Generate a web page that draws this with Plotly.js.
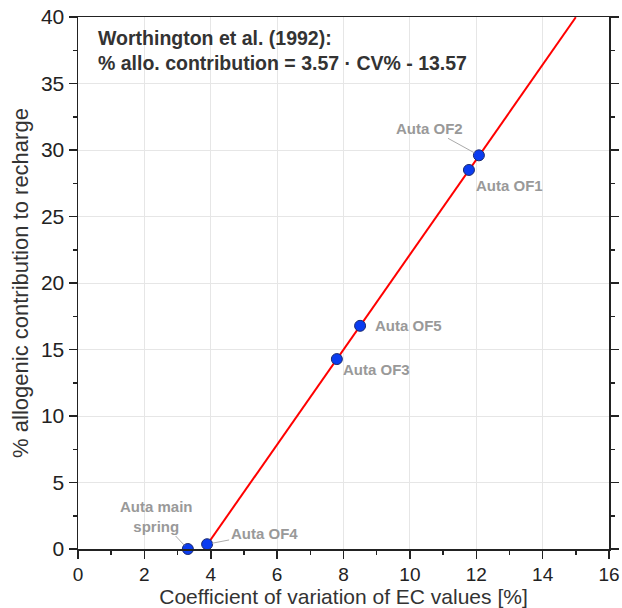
<!DOCTYPE html>
<html>
<head>
<meta charset="utf-8">
<script src="https://cdn.plot.ly/plotly-3.0.1.min.js"></script>
<style>html,body{margin:0;padding:0;background:#fff;} #chart{width:622px;height:608px;}</style>
</head>
<body>
<div id="chart"></div>
<script>
// Data
const siteNames = ["Auta main spring", "Auta OF4", "Auta OF3", "Auta OF5", "Auta OF1", "Auta OF2"];
const cvValues = [3.31, 3.89, 7.8, 8.5, 11.78, 12.08];
const alloValues = [0, 0.36, 14.28, 16.78, 28.5, 29.6];
const lineCV = [3.8, 15];
const lineAllo = [0, 39.98];
const xTicks = [0, 2, 4, 6, 8, 10, 12, 14, 16];
const yTicks = [0, 5, 10, 15, 20, 25, 30, 35, 40];
const labelOffsets = [[-31, -33, true], [57, -11, true], [0, 0, false], [0, 0, false], [41, 16, true], [-49, -27, true]];

const lineTrace = {
  x: lineCV, y: lineAllo, mode: 'lines', type: 'scatter',
  line: {color: '#ff0000', width: 2}, hoverinfo: 'skip', cliponaxis: false
};
const pointTrace = {
  x: cvValues, y: alloValues, mode: 'markers', type: 'scatter',
  marker: {color: '#0a3cf0', size: 11, line: {color: '#1a2a70', width: 1}},
  cliponaxis: false
};

const FF = 'Liberation Sans, Arial, sans-serif';
const annFont = {family: FF, size: 15, color: '#999999'};
const annotations = [];
siteNames.forEach((name, i) => {
  const off = labelOffsets[i];
  const txt = name === "Auta main spring" ? "<b>Auta main<br>spring</b>" : "<b>" + name + "</b>";
  if (off[2]) {
    annotations.push({
      x: cvValues[i], y: alloValues[i], xref: 'x', yref: 'y', text: txt,
      showarrow: true, arrowhead: 0, arrowwidth: 1, arrowcolor: '#aaaaaa',
      ax: off[0], ay: off[1], standoff: 5, font: annFont
    });
  }
});
// OF3 and OF5 labels without visible leaders
annotations.push({x: cvValues[2], y: alloValues[2], xref: 'x', yref: 'y', text: '<b>' + siteNames[2] + '</b>',
  showarrow: false, xanchor: 'left', yanchor: 'middle', xshift: 4, yshift: -10, font: annFont});
annotations.push({x: cvValues[3], y: alloValues[3], xref: 'x', yref: 'y', text: '<b>' + siteNames[3] + '</b>',
  showarrow: false, xanchor: 'left', yanchor: 'middle', xshift: 13, yshift: 0, font: annFont});
annotations.push({
  x: 0.033, y: 0.985, xref: 'paper', yref: 'paper', xanchor: 'left', yanchor: 'top', align: 'left',
  text: '<b>Worthington et al. (1992):<br>% allo. contribution = 3.57 · CV% - 13.57</b>',
  showarrow: false, font: {family: FF, size: 19.5, color: '#333333'}
});

const axisCommon = {
  showline: true, linecolor: '#222222', linewidth: 1.5,
  ticks: 'outside', ticklen: 8, tickwidth: 1.5, tickcolor: '#222222',
  showgrid: true, gridcolor: '#e6e6e6', gridwidth: 1, zeroline: false
};

const layout = {
  width: 622, height: 608,
  margin: {l: 78, r: 13, t: 17, b: 59},
  paper_bgcolor: '#ffffff', plot_bgcolor: '#ffffff',
  showlegend: false,
  xaxis: Object.assign({}, axisCommon, {
    range: [0, 16], tickvals: xTicks, ticktext: xTicks.map(String), mirror: true,
    tickfont: {family: FF, size: 19, color: '#222222'},
    minor: {dtick: 1, ticks: 'outside', ticklen: 4, tickwidth: 1.5, tickcolor: '#222222', showgrid: false},
    title: {text: 'Coefficient of variation of EC values [%]', standoff: 3,
      font: {family: FF, size: 21, color: '#333333'}}
  }),
  yaxis: Object.assign({}, axisCommon, {
    range: [0, 40], tickvals: yTicks, ticktext: yTicks.map(String), mirror: 'ticks',
    tickfont: {family: FF, size: 21, color: '#222222'},
    minor: {dtick: 2.5, ticks: 'outside', ticklen: 4, tickwidth: 1.5, tickcolor: '#222222', showgrid: false},
    title: {text: '% allogenic contribution to recharge', standoff: 6,
      font: {family: FF, size: 22, color: '#333333'}}
  }),
  annotations: annotations
};

Plotly.newPlot('chart', [lineTrace, pointTrace], layout, {displayModeBar: false, staticPlot: true});
</script>
</body>
</html>
